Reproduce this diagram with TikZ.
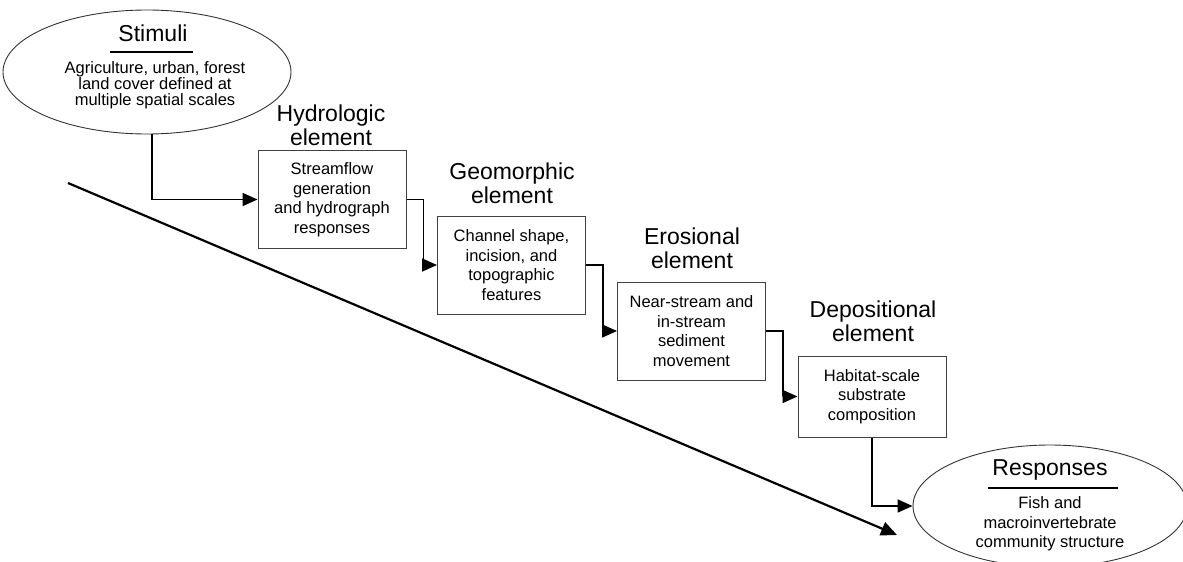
\documentclass[tikz,border=0pt]{standalone}
\usepackage{fontspec}
\setmainfont{Liberation Sans}
\usetikzlibrary{arrows.meta,shapes.geometric}
\begin{document}
\begin{tikzpicture}[x=1pt,y=-1pt,
 box/.style={draw=black!75, line width=1pt, minimum width=148pt, minimum height=98pt, inner sep=2pt, align=center, font=\fontsize{16.5}{19.5}\selectfont},
 titletext/.style={align=center, font=\fontsize{23}{24}\selectfont, inner sep=0pt},
 bodytext/.style={align=center, font=\fontsize{16.5}{19.5}\selectfont, inner sep=0pt},
 oval/.style={draw=black!80, line width=0.9pt, ellipse, inner sep=0pt},
 flow/.style={line width=1.7pt, -{Triangle[length=15pt,width=13pt]}},
 rule/.style={line width=1.8pt},
]
\useasboundingbox (0,0) rectangle (1183,562);
\begin{scope}
\clip (0,0) rectangle (1183,562);
% Stimuli
\node[oval, minimum width=288pt, minimum height=124pt] (stim) at (147,72) {};
\node[titletext] (stimt) at (153,33) {Stimuli};
\coordinate (su1) at (110,52);
\coordinate (su2) at (193,52);
\draw[rule] (su1) -- (su2);
\node[bodytext, font=\fontsize{16.5}{16.2}\selectfont] (stimb) at (155,85) {Agriculture, urban, forest\\land cover defined at\\multiple spatial scales};
% Responses
\node[oval, minimum width=274pt, minimum height=122pt] (resp) at (1050,506) {};
\node[titletext] (respt) at (1050,470) {Responses};
\coordinate (ru1) at (988,488);
\coordinate (ru2) at (1118,488);
\draw[rule] (ru1) -- (ru2);
\node[bodytext] (respb) at (1050,524) {Fish and\\macroinvertebrate\\community structure};
\end{scope}
% boxes
\node[box] (hyd) at (332,199.5) {Streamflow\\generation\\and hydrograph\\responses};
\node[box] (geo) at (511.5,265) {Channel shape,\\incision, and\\topographic\\features};
\node[box] (ero) at (691.5,331) {Near-stream and\\in-stream\\sediment\\movement};
\node[box, minimum height=81pt] (dep) at (872,396.5) {Habitat-scale\\substrate\\composition};
% titles
\node[titletext] (hydt) at (331,125) {Hydrologic\\element};
\node[titletext] (geot) at (512,183) {Geomorphic\\element};
\node[titletext] (erot) at (692,248) {Erosional\\element};
\node[titletext] (dept) at (873,321) {Depositional\\element};
% connectors
\draw[flow] ([xshift=5pt]stim.south) |- (hyd.west);
\draw[flow] (hyd.east) -- ++(17,0) |- (geo.west);
\draw[flow] (geo.east) -- ++(17,0) |- (ero.west);
\draw[flow] (ero.east) -- ++(17,0) |- (dep.west);
\draw[flow] (dep.south) |- (resp.west);
% diagonal
\coordinate (ds) at (68,183);
\coordinate (de) at (897,535);
\draw[line width=2.2pt, -{Triangle[length=16pt,width=14pt]}] (ds) -- (de);
\end{tikzpicture}
\end{document}
